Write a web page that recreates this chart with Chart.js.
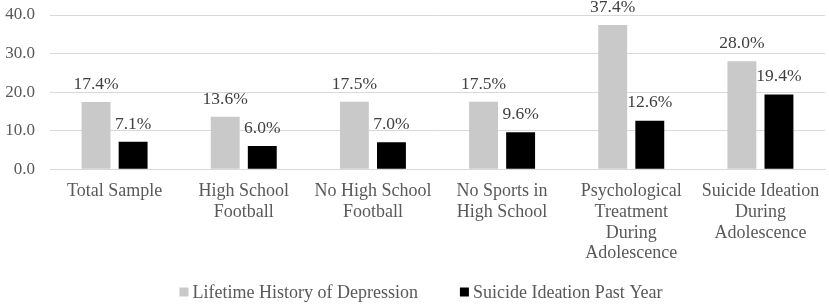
<!DOCTYPE html>
<html>
<head>
<meta charset="utf-8">
<script src="https://cdn.jsdelivr.net/npm/chart.js@4/dist/chart.umd.min.js"></script>
<style>
  html, body { margin: 0; padding: 0; background: #fff; }
  #wrap { width: 829px; height: 304px; }
</style>
</head>
<body>
<div id="wrap"><canvas id="myChart" width="829" height="304"></canvas></div>
<script>
const categories = [
    ['Total Sample'],
    ['High School', 'Football'],
    ['No High School', 'Football'],
    ['No Sports in', 'High School'],
    ['Psychological', 'Treatment', 'During', 'Adolescence'],
    ['Suicide Ideation', 'During', 'Adolescence']
];
const depression = [17.4, 13.6, 17.5, 17.5, 37.4, 28.0];
const ideation = [7.1, 6.0, 7.0, 9.6, 12.6, 19.4];
const seriesNames = ['Lifetime History of Depression', 'Suicide Ideation Past Year'];
const yTicks = [0, 10, 20, 30, 40];

const serif = "'Liberation Serif', 'Times New Roman', serif";

// draws the "17.4%" labels above each bar
const barLabels = {
    id: 'barLabels',
    afterDatasetsDraw(chart) {
        const ctx = chart.ctx;
        ctx.save();
        ctx.font = '17.5px ' + serif;
        ctx.fillStyle = '#404040';
        ctx.textAlign = 'center';
        ctx.textBaseline = 'bottom';
        chart.data.datasets.forEach((ds, i) => {
            const meta = chart.getDatasetMeta(i);
            meta.data.forEach((bar, j) => {
                ctx.fillText(ds.data[j].toFixed(1) + '%', bar.x, bar.y - 9);
            });
        });
        ctx.restore();
    }
};

// bottom legend, drawn by hand so the gap between items can be wider than the row padding
const bottomLegend = {
    id: 'bottomLegend',
    afterDraw(chart) {
        const ctx = chart.ctx;
        const box = 9, gapText = 4, gapItem = 42;
        const y = 292;
        ctx.save();
        ctx.font = '18px ' + serif;
        ctx.textBaseline = 'middle';
        const items = chart.data.datasets.map(ds => ({
            text: ds.label, color: ds.backgroundColor, w: ctx.measureText(ds.label).width
        }));
        let total = 0;
        items.forEach((it, i) => { total += box + gapText + it.w + (i ? gapItem : 0); });
        let x = 421 - total / 2;
        items.forEach(it => {
            ctx.fillStyle = it.color;
            ctx.fillRect(x, y - box / 2, box, box);
            ctx.fillStyle = '#595959';
            ctx.fillText(it.text, x + box + gapText, y + 1);
            x += box + gapText + it.w + gapItem;
        });
        ctx.restore();
    }
};

function drawChart() {
    const ctx = document.getElementById('myChart');
    new Chart(ctx, {
        type: 'bar',
        data: {
            labels: categories,
            datasets: [{
                label: seriesNames[0],
                data: depression,
                backgroundColor: '#c9c9c9'
            }, {
                label: seriesNames[1],
                data: ideation,
                backgroundColor: '#000000'
            }]
        },
        options: {
            responsive: false,
            animation: false,
            categoryPercentage: 0.574,
            barPercentage: 0.78,
            layout: { padding: { top: 15, right: 4, left: 3, bottom: 36 } },
            scales: {
                x: {
                    grid: { display: false },
                    border: { color: '#d9d9d9' },
                    ticks: {
                        color: '#595959',
                        font: { family: serif, size: 18, lineHeight: 1.15 },
                        maxRotation: 0,
                        autoSkip: false,
                        padding: 4
                    }
                },
                y: {
                    min: 0,
                    max: 40,
                    afterBuildTicks: (axis) => { axis.ticks = yTicks.map(v => ({ value: v })); },
                    afterFit: (axis) => {
                        axis.width = 47;
                        axis.paddingTop = 0;
                        axis.paddingBottom = 0;
                    },
                    grid: { color: '#d9d9d9', drawTicks: false },
                    border: { display: false },
                    ticks: {
                        color: '#595959',
                        font: { family: serif, size: 17 },
                        padding: 15,
                        callback: (v) => Number(v).toFixed(1)
                    }
                }
            },
            plugins: {
                legend: { display: false },
                tooltip: { enabled: false }
            }
        },
        plugins: [barLabels, bottomLegend]
    });
}

drawChart();
</script>
</body>
</html>
